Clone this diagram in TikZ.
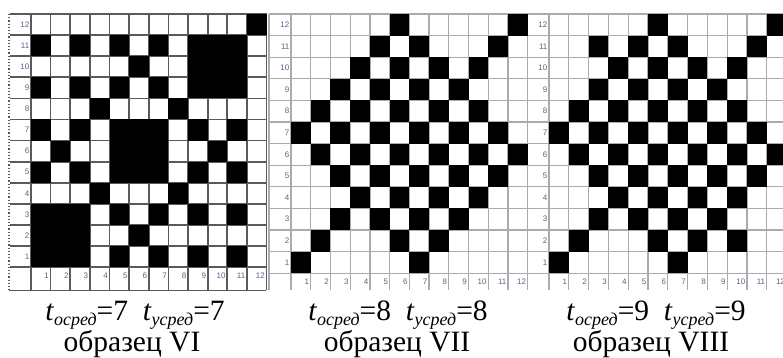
\documentclass[tikz,border=0pt]{standalone}
\usepackage{fontspec}
\setmainfont{Liberation Serif}
\newfontfamily\gridfont{Liberation Sans}
\usepackage{tikz}
\usetikzlibrary{positioning}
\definecolor{GridDark}{HTML}{5A5A5A}
\definecolor{GridLight}{HTML}{ABABAB}
\definecolor{NumInk}{HTML}{55648A}

% t with an italic Cyrillic index
\newcommand{\tidx}[1]{\textit{t}\raisebox{-.2em}{\fontsize{18}{18}\selectfont\itshape #1}}

% one 12x12 weave draft: name, label column x, column 1 x, cell width, row height, line style, black cells
\newcommand{\weavegrid}[7]{%
  \foreach \k in {0,...,12}
    \draw[#6] (#2,{14+\k*#5}) -- ({#3+12*#4},{14+\k*#5});
  \foreach \k in {0,...,12}
    \draw[#6] ({#3+\k*#4},14) -- ({#3+\k*#4},290);
  \foreach \r/\cols in {#7}
    \foreach \c in \cols
      \fill[weaveCell] ({#3+(\c-1)*#4},{14+(12-\r)*#5}) rectangle ++(#4,#5);
  \foreach \k in {1,...,12}{
    \node[gridNum] (#1-r\k) at ({#3-1.5},{14+(12.5-\k)*#5}) {\k};
    \node[gridNum] (#1-c\k) at ({#3+\k*#4-1.5},{14+12*#5+9}) {\k};
  }
}

\begin{document}
\begin{tikzpicture}[x=1pt,y=-1pt]
  \clip (0,0) rectangle (783,358);
  \fill[white] (0,0) rectangle (783,358);

  \tikzset{
    gridDark/.style={draw=GridDark, line width=1.7pt},
    gridLight/.style={draw=GridLight, line width=1.3pt},
    weaveCell/.style={fill=black},
    gridNum/.style={
      anchor=east,
      inner sep=0pt,
      font=\gridfont\fontsize{8}{8}\selectfont,
      text=NumInk
    },
    capLine/.style={
      anchor=base,
      inner sep=0pt,
      font=\fontsize{29.5}{30}\selectfont
    }
  }

  % образец VI
  \draw[GridDark, dotted, line width=1.2pt] (9,14) -- (9,291);
  \draw[gridDark, line width=1pt] (9,290) -- (266,290);
  \weavegrid{VI}{10}{31}{19.63}{21.1}{gridDark}{
    12/{12}, 11/{1,3,5,7,9,10,11}, 10/{6,9,10,11}, 9/{1,3,5,7,9,10,11},
    8/{4,8}, 7/{1,3,5,6,7,9,11}, 6/{2,5,6,7,10}, 5/{1,3,5,6,7,9,11},
    4/{4,8}, 3/{1,2,3,5,7,9,11}, 2/{1,2,3,6}, 1/{1,2,3,5,7,9,11}}

  % образец VII
  \draw[gridLight] (269,14) -- (269,290);
  \weavegrid{VII}{269}{291}{19.73}{21.6}{gridLight}{
    12/{6,12}, 11/{5,7,11}, 10/{4,6,8,10}, 9/{3,5,7,9},
    8/{2,4,6,8,10}, 7/{1,3,5,7,9,11}, 6/{2,4,6,8,10,12}, 5/{3,5,7,9,11},
    4/{4,6,8,10}, 3/{3,5,7,9}, 2/{2,6,8}, 1/{1,7}}

  % образец VIII
  \weavegrid{VIII}{528}{549}{19.8}{21.6}{gridLight}{
    12/{6,12}, 11/{3,5,7,11}, 10/{4,6,8,10}, 9/{3,5,7,9},
    8/{2,4,6,8,10}, 7/{1,3,5,7,9,11}, 6/{2,4,6,8,10,12}, 5/{3,5,7,9,11},
    4/{4,6,8,10}, 3/{3,5,7,9}, 2/{2,6,8,10}, 1/{1,7}}

  \node[capLine] (tVI) at (135,320) {\tidx{осред}=7~~\tidx{усред}=7};
  \node[capLine] (nVI) at (132,351) {образец VI};
  \node[capLine] (tVII) at (398,320) {\tidx{осред}=8~~\tidx{усред}=8};
  \node[capLine] (nVII) at (397,351) {образец VII};
  \node[capLine] (tVIII) at (656,320) {\tidx{осред}=9~~\tidx{усред}=9};
  \node[capLine] (nVIII) at (651,351) {образец VIII};
\end{tikzpicture}
\end{document}
